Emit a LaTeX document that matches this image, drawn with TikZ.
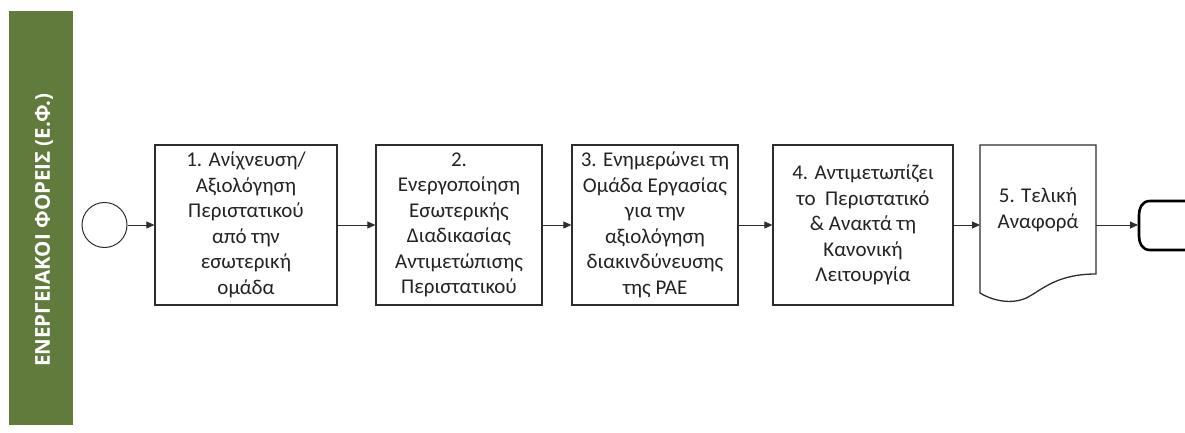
\documentclass[tikz,border=0pt]{standalone}
\usepackage{fontspec}
\setmainfont{Carlito}
\newfontfamily\titlefont{Open Sans}
\usetikzlibrary{arrows.meta}
\definecolor{bandgreen}{RGB}{96,123,60}
\definecolor{txt}{RGB}{35,35,35}
\definecolor{edge}{RGB}{45,45,45}
\tikzset{
  stepbox/.style={draw=edge, line width=1.3pt, fill=white, minimum width=#1, minimum height=160pt, inner sep=0pt, align=center, font=\fontsize{21}{25.5}\selectfont, text=txt},
  flow/.style={draw=edge, line width=0.8pt, -{Triangle[length=8pt,width=7pt]}},
}
\begin{document}
\begin{tikzpicture}[x=1pt,y=-1pt]
\useasboundingbox (0,0) rectangle (1185,433);
\fill[bandgreen] (9,11) rectangle (73,425);
\node[rotate=90, text=white, font=\titlefont\bfseries\fontsize{20.5}{24}\selectfont] (title) at (44,230) {ΕΝΕΡΓΕΙΑΚΟΙ ΦΟΡΕΙΣ (Ε.Φ.)};
\node[draw=edge, line width=1pt, circle, minimum size=45pt, inner sep=0pt] (start) at (104.5,225) {};
\node[stepbox=182pt] (b1) at (246,225) {1. Ανίχνευση/\\Αξιολόγηση\\Περιστατικού\\από την\\εσωτερική\\ομάδα};
\node[stepbox=166pt] (b2) at (459,225) {2.\\Ενεργοποίηση\\Εσωτερικής\\Διαδικασίας\\Αντιμετώπισης\\Περιστατικού};
\node[stepbox=166pt] (b3) at (655,225) {3. Ενημερώνει τη\\Ομάδα Εργασίας\\για την\\αξιολόγηση\\διακινδύνευσης\\της ΡΑΕ};
\node[stepbox=180pt] (b4) at (863,225) {4. Αντιμετωπίζει\\το~~Περιστατικό\\\& Ανακτά τη\\Κανονική\\Λειτουργία};
% document shape
\coordinate (d5w) at (980,225);
\coordinate (d5e) at (1096,225);
\draw[draw=edge, line width=1.3pt, fill=white] (980,145) -- (1096,145) -- (1096,274)
  .. controls (1060,274) and (1045,287) .. (1030,296)
  .. controls (1015,305) and (995,302) .. (980,293) -- cycle;
\node[align=center, font=\fontsize{21}{25.5}\selectfont, text=txt] (b5) at (1038,210) {5. Τελική\\Αναφορά};
% terminator
\coordinate (term) at (1138,225);
\draw[black, line width=2.6pt, line join=round] (1190,201) -- (1150,201)
  .. controls (1142,201) and (1139,208) .. (1139,215) -- (1139,236)
  .. controls (1139,243) and (1142,250) .. (1150,250) -- (1190,250);
\draw[flow] (start) -- (b1);
\draw[flow] (b1) -- (b2);
\draw[flow] (b2) -- (b3);
\draw[flow] (b3) -- (b4);
\draw[flow] (b4) -- (d5w);
\draw[flow] (d5e) -- (term);
\end{tikzpicture}
\end{document}
